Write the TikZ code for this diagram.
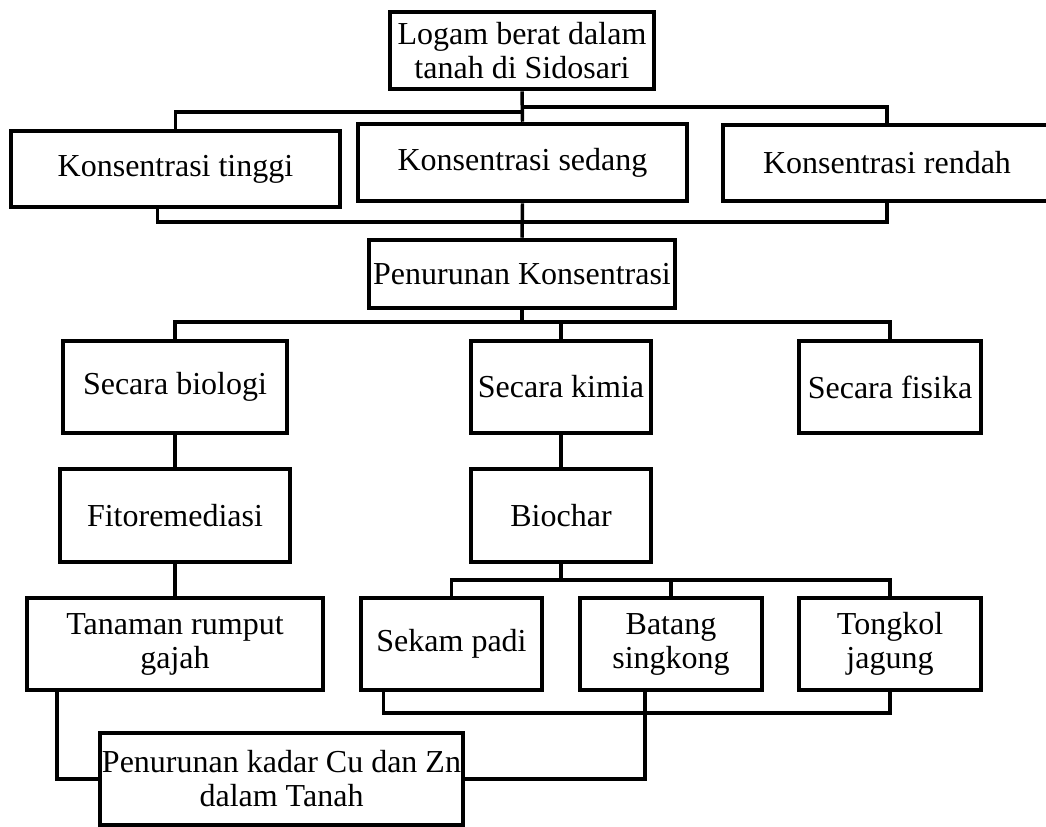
\documentclass[tikz,border=0pt]{standalone}
\usepackage{fontspec}
\setmainfont{Liberation Serif}
\newcommand{\txt}{\fontsize{24}{25.5}\selectfont}

\begin{document}
\begin{tikzpicture}[x=0.75pt, y=-0.75pt, line width=2.6pt,
  box/.style={draw, line width=3.4pt, align=center, inner sep=0pt, font=\txt}]
  \useasboundingbox (0,0) rectangle (1046,826);
  \node[box, minimum width=198pt, minimum height=57.75pt] (logam) at (522,50.5) {Logam berat dalam\\tanah di Sidosari};
  \node[box, minimum width=246.75pt, minimum height=57pt] (tinggi) at (175.5,169) {Konsentrasi tinggi};
  \node[box, minimum width=246.75pt, minimum height=57.75pt] (sedang) at (522.5,162.5) {Konsentrasi sedang};
  \node[box, minimum width=246pt, minimum height=57pt] (rendah) at (887,163) {Konsentrasi rendah};
  \node[box, minimum width=229.5pt, minimum height=51pt] (pk) at (522,274) {Penurunan Konsentrasi};
  \node[box, minimum width=168pt, minimum height=69pt] (biologi) at (175,387) {Secara biologi};
  \node[box, minimum width=135pt, minimum height=69pt] (kimia) at (561,387) {Secara kimia};
  \node[box, minimum width=136.5pt, minimum height=69pt] (fisika) at (890,387) {Secara fisika};
  \node[box, minimum width=172.5pt, minimum height=69.75pt] (fito) at (175,515.5) {Fitoremediasi};
  \node[box, minimum width=135pt, minimum height=69.75pt] (biochar) at (561,515.5) {Biochar};
  \node[box, minimum width=222pt, minimum height=69pt] (tanaman) at (175,644) {Tanaman rumput\\gajah};
  \node[box, minimum width=135.75pt, minimum height=69pt] (sekam) at (451.5,644) {Sekam padi};
  \node[box, minimum width=136.5pt, minimum height=69pt] (batang) at (671,644) {Batang\\singkong};
  \node[box, minimum width=136.5pt, minimum height=69pt] (tongkol) at (890,644) {Tongkol\\jagung};
  \node[box, minimum width=272.25pt, minimum height=69pt] (kadar) at (281.5,779) {Penurunan kadar Cu dan Zn\\dalam Tanah};
  \coordinate (ja) at (522,107);
  \coordinate (jb) at (522,112);
  \coordinate (jc) at (522,222);
  \coordinate (jd) at (522,322);
  \coordinate (je) at (561,580);
  \coordinate (jf) at (640,713);
  \draw (logam.south) -- (sedang.north);
  \draw (ja) -| (rendah.north);
  \draw (jb) -| (tinggi.north);
  \draw (tinggi.south) ++(-18,0) |- (jc) -| (rendah.south);
  \draw (sedang.south) -- (pk.north);
  \draw (pk.south) -- (jd);
  \foreach \n in {biologi, kimia, fisika} {
    \draw (jd) -| (\n.north);
  }
  \foreach \i\j in {biologi/fito, kimia/biochar, fito/tanaman} {
    \draw (\i.south) -- (\j.north);
  }
  \draw (biochar.south) -- (je);
  \foreach \n in {sekam, batang, tongkol} {
    \draw (je) -| (\n.north);
  }
  \draw (sekam.south) ++(-68,0) |- (jf) -| (tongkol.south);
  \draw (batang.south) ++(-26,0) |- (kadar.east);
  \draw (tanaman.south) ++(-118,0) |- (kadar.west);
\end{tikzpicture}
\end{document}
